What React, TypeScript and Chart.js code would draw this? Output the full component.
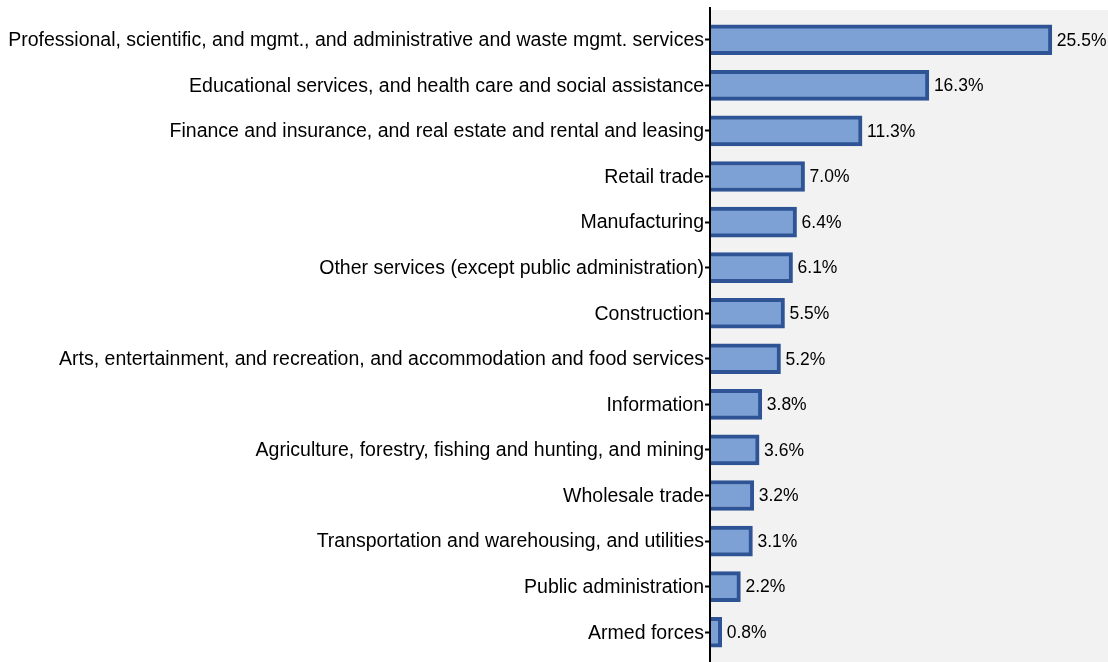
import React, { useEffect, useRef } from "react";
import { Chart, registerables } from "chart.js";

Chart.register(...registerables);

const categories = [
  "Professional, scientific, and mgmt., and administrative and waste mgmt. services",
  "Educational services, and health care and social assistance",
  "Finance and insurance, and real estate and rental and leasing",
  "Retail trade",
  "Manufacturing",
  "Other services (except public administration)",
  "Construction",
  "Arts, entertainment, and recreation, and accommodation and food services",
  "Information",
  "Agriculture, forestry, fishing and hunting, and mining",
  "Wholesale trade",
  "Transportation and warehousing, and utilities",
  "Public administration",
  "Armed forces",
];

const values = [25.5, 16.3, 11.3, 7.0, 6.4, 6.1, 5.5, 5.2, 3.8, 3.6, 3.2, 3.1, 2.2, 0.8];

const FONT = "'Liberation Sans', Arial, Helvetica, sans-serif";

const bgPlugin = {
  id: "bgPlugin",
  beforeDraw(chart: any) {
    const { ctx, chartArea } = chart;
    ctx.save();
    ctx.fillStyle = "#f2f2f2";
    ctx.fillRect(chartArea.left, chartArea.top - 7, chartArea.right - chartArea.left, chartArea.bottom - chartArea.top + 14);
    ctx.restore();
  },
  afterDraw(chart: any) {
    const { ctx, chartArea } = chart;
    ctx.save();
    ctx.strokeStyle = "#000";
    ctx.lineWidth = 2;
    ctx.beginPath();
    ctx.moveTo(chartArea.left - 1, chartArea.top - 10);
    ctx.lineTo(chartArea.left - 1, chartArea.bottom + 10);
    ctx.stroke();
    ctx.restore();
  },
};

const valueLabels = {
  id: "valueLabels",
  afterDatasetsDraw(chart: any) {
    const { ctx } = chart;
    const meta = chart.getDatasetMeta(0);
    ctx.save();
    ctx.fillStyle = "#000";
    ctx.font = `17.5px ${FONT}`;
    ctx.textAlign = "left";
    ctx.textBaseline = "middle";
    meta.data.forEach((bar: any, i: number) => {
      ctx.fillText(values[i].toFixed(1) + "%", bar.x + 5, bar.y + 1);
    });
    ctx.restore();
  },
};

export default function App() {
  const ref = useRef<HTMLCanvasElement | null>(null);
  useEffect(() => {
    document.body.style.margin = "0";
    const chart = new Chart(ref.current as HTMLCanvasElement, {
      type: "bar",
      data: {
        labels: categories,
        datasets: [
          {
            data: values,
            backgroundColor: "#7ea1d5",
            borderColor: "#2f5496",
            borderWidth: 4,
            borderSkipped: "start",
            barThickness: 30,
          },
        ],
      },
      options: {
        indexAxis: "y",
        animation: false,
        responsive: false,
        maintainAspectRatio: false,
        layout: { padding: { top: 17, bottom: 7, left: 0, right: 0 } },
        plugins: { legend: { display: false }, tooltip: { enabled: false } },
        scales: {
          x: { display: false, min: 0, max: 29.7 },
          y: {
            offset: true,
            border: { display: false },
            grid: { offset: false, drawOnChartArea: false, tickLength: 6, tickColor: "#000", tickWidth: 2 },
            ticks: { color: "#000", font: { size: 19.5, family: FONT }, padding: 1, labelOffset: 1 },
            afterFit(scale: any) {
              scale.width = 711;
              scale.paddingTop = 0;
              scale.paddingBottom = 0;
            },
          },
        },
      },
      plugins: [bgPlugin, valueLabels],
    });
    return () => chart.destroy();
  }, []);
  return <canvas ref={ref} width={1108} height={662} style={{ display: "block" }} />;
}
